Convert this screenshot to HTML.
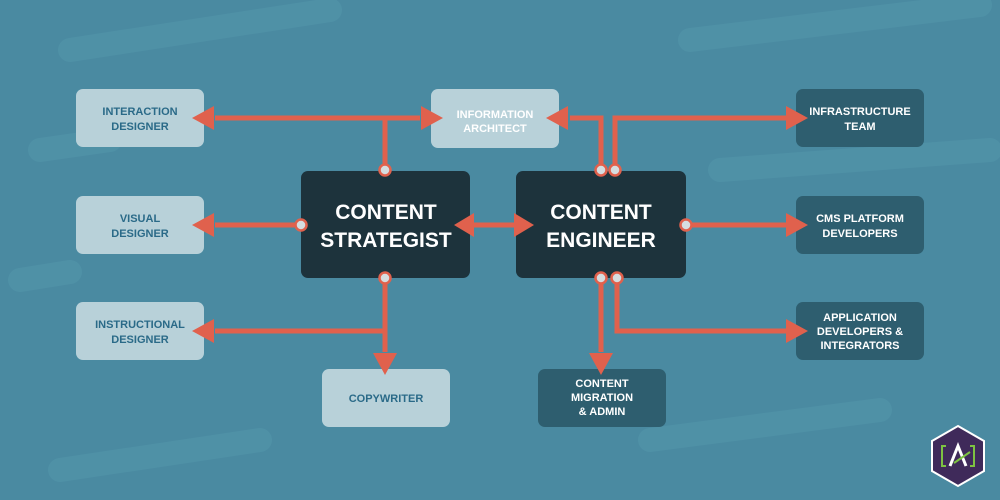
<!DOCTYPE html><html><head><style>body{margin:0;background:#4a8aa1}svg{display:block}text{font-family:"Liberation Sans",sans-serif;font-weight:bold;text-anchor:middle}</style></head><body>
<svg width="1000" height="500" viewBox="0 0 1000 500">
<rect width="1000" height="500" fill="#4a8aa1"/>
<g stroke="#5193a8" stroke-width="24" stroke-linecap="round" opacity="0.8">
<line x1="70" y1="50" x2="330" y2="10"/><line x1="690" y1="40" x2="980" y2="5"/><line x1="40" y1="150" x2="110" y2="140"/><line x1="650" y1="440" x2="880" y2="410"/><line x1="60" y1="470" x2="260" y2="440"/><line x1="720" y1="170" x2="990" y2="150"/><line x1="20" y1="280" x2="70" y2="272"/>
</g>
<g fill="#b8d1d9"><rect x="76" y="89" width="128" height="58" rx="7"/><rect x="76" y="196" width="128" height="58" rx="7"/><rect x="76" y="302" width="128" height="58" rx="7"/><rect x="431" y="89" width="128" height="59" rx="7"/><rect x="322" y="369" width="128" height="58" rx="7"/></g>
<g fill="#2e5e6f"><rect x="796" y="89" width="128" height="58" rx="7"/><rect x="796" y="196" width="128" height="58" rx="7"/><rect x="796" y="302" width="128" height="58" rx="7"/><rect x="538" y="369" width="128" height="58" rx="7"/></g>
<g fill="#1d333c"><rect x="301" y="171" width="169" height="107" rx="7"/><rect x="516" y="171" width="170" height="107" rx="7"/></g>
<g stroke="#e0614d" stroke-width="5" fill="none">
<polyline points="215,118 420,118"/><line x1="385" y1="118" x2="385" y2="168"/>
<line x1="215" y1="225" x2="299" y2="225"/>
<polyline points="385,280 385,352"/><line x1="385" y1="331" x2="215" y2="331"/>
<line x1="470" y1="225" x2="516" y2="225"/>
<polyline points="601,168 601,118 570,118"/><polyline points="615,168 615,118 795,118"/>
<line x1="688" y1="225" x2="795" y2="225"/>
<line x1="601" y1="280" x2="601" y2="352"/><polyline points="617,280 617,331 795,331"/>
</g>
<g fill="#e0614d">
<polygon points="192,118 214,106 214,130"/><polygon points="443,118 421,106 421,130"/>
<polygon points="192,225 214,213 214,237"/><polygon points="192,331 214,319 214,343"/>
<polygon points="385,375 373,353 397,353"/>
<polygon points="454,225 474,213 474,237"/><polygon points="534,225 514,213 514,237"/>
<polygon points="546,118 568,106 568,130"/><polygon points="808,118 786,106 786,130"/>
<polygon points="808,225 786,213 786,237"/><polygon points="808,331 786,319 786,343"/>
<polygon points="601,375 589,353 613,353"/>
</g>
<g fill="#d6dde0" stroke="#e0614d" stroke-width="2.5">
<circle cx="385" cy="170" r="5.5"/><circle cx="301" cy="225" r="5.5"/><circle cx="385" cy="278" r="5.5"/>
<circle cx="601" cy="170" r="5.5"/><circle cx="615" cy="170" r="5.5"/><circle cx="686" cy="225" r="5.5"/>
<circle cx="601" cy="278" r="5.5"/><circle cx="617" cy="278" r="5.5"/>
</g>
<g fill="#2a6a88" font-size="11">
<text x="140" y="115">INTERACTION</text><text x="140" y="130">DESIGNER</text>
<text x="140" y="222">VISUAL</text><text x="140" y="237">DESIGNER</text>
<text x="140" y="328">INSTRUCTIONAL</text><text x="140" y="343">DESIGNER</text>
<text x="386" y="402">COPYWRITER</text>
</g>
<g fill="#fff" font-size="11">
<text x="495" y="118">INFORMATION</text><text x="495" y="132">ARCHITECT</text>
<text x="860" y="115">INFRASTRUCTURE</text><text x="860" y="130">TEAM</text>
<text x="860" y="222">CMS PLATFORM</text><text x="860" y="237">DEVELOPERS</text>
<text x="860" y="321">APPLICATION</text><text x="860" y="335">DEVELOPERS &amp;</text><text x="860" y="349">INTEGRATORS</text>
<text x="602" y="387">CONTENT</text><text x="602" y="401">MIGRATION</text><text x="602" y="415">&amp; ADMIN</text>
</g>
<g fill="#fff" font-size="21">
<text x="386" y="219">CONTENT</text><text x="386" y="247">STRATEGIST</text>
<text x="601" y="219">CONTENT</text><text x="601" y="247">ENGINEER</text>
</g>
<polygon points="958,426 984,441 984,471 958,486 932,471 932,441" fill="#3f2a5a" stroke="#fff" stroke-width="2"/>
<path d="M946,446 h-4 v20 h4 M970,446 h4 v20 h-4" stroke="#7dc242" stroke-width="2" fill="none"/>
<path d="M950,466 L958,446 L966,466" stroke="#fff" stroke-width="3" fill="none"/>
<line x1="954" y1="463" x2="970" y2="452" stroke="#7dc242" stroke-width="2"/>
</svg></body></html>
